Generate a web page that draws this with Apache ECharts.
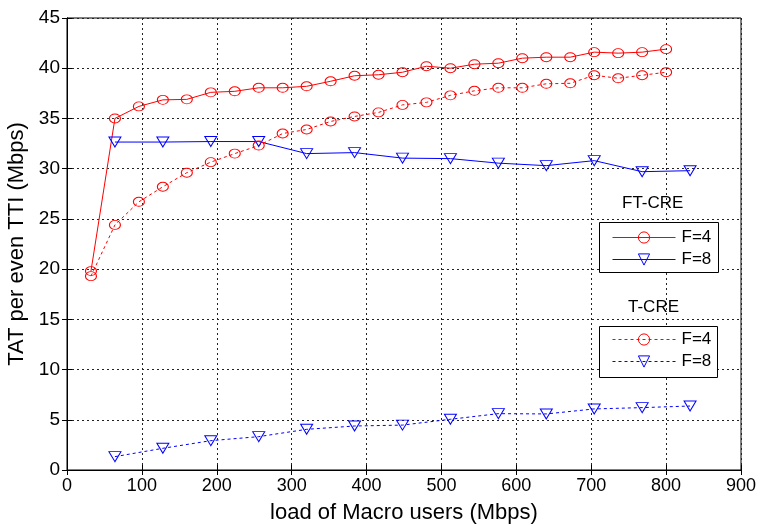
<!DOCTYPE html>
<html>
<head>
<meta charset="utf-8">
<script src="https://cdn.jsdelivr.net/npm/echarts@6/dist/echarts.min.js"></script>
<style>
  html, body { margin: 0; padding: 0; background: #fff; }
  #chart { width: 761px; height: 526px; }
</style>
</head>
<body>
<div id="chart"></div>
<script>
// Load of macro users (Mbps) sampled for each configuration
const loadF4 = [32, 64, 96, 128, 160, 192, 224, 256, 288, 320, 352, 384, 416,
                448, 480, 512, 544, 576, 608, 640, 672, 704, 736, 768, 800];
const loadF8 = [64, 128, 192, 256, 320, 384, 448, 512, 576, 640, 704, 768, 832];

// Throughput per even TTI (Mbps)
const ftcreF4 = [19.8, 35.0, 36.2, 36.85, 36.9, 37.6, 37.7, 38.05, 38.05, 38.2, 38.7, 39.25, 39.35,
                 39.6, 40.2, 40.0, 40.4, 40.5, 41.0, 41.1, 41.1, 41.6, 41.5, 41.6, 41.9];
const ftcreF8 = [32.65, 32.65, 32.7, 32.7, 31.5, 31.6, 31.05, 31.0, 30.55, 30.3, 30.8, 29.7, 29.8];
const tcreF4  = [19.3, 24.4, 26.7, 28.2, 29.6, 30.65, 31.5, 32.3, 33.5, 33.9, 34.7, 35.2, 35.6,
                 36.35, 36.6, 37.3, 37.75, 38.05, 38.05, 38.45, 38.5, 39.3, 39.0, 39.3, 39.6];
const tcreF8  = [1.33, 2.16, 2.92, 3.32, 4.05, 4.38, 4.47, 5.05, 5.61, 5.58, 6.08, 6.21, 6.37];

const xTicks = { min: 0, max: 900, interval: 100 };
const yTicks = { min: 0, max: 45, interval: 5 };

const RED = '#ff0000';
const BLUE = '#0000ff';
const FONT = '"Liberation Sans", Arial, Helvetica, sans-serif';
const CLEAR = 'rgba(255,255,255,0)';
const DASH = [3, 3];

function pairs(xs, ys) { return xs.map((x, i) => [x, ys[i]]); }

function lineSeries(name, xs, ys, color, dashed, symbol) {
  const tri = symbol === 'tri';
  return {
    name: name,
    type: 'line',
    data: pairs(xs, ys),
    xAxisIndex: 0,
    yAxisIndex: 0,
    symbol: tri ? 'triangle' : 'circle',
    symbolRotate: tri ? 180 : 0,
    symbolSize: tri ? [12, 10] : [11, 9],
    showAllSymbol: true,
    lineStyle: { color: color, width: 1, type: dashed ? DASH : 'solid' },
    itemStyle: { color: CLEAR, borderColor: color, borderWidth: 1 },
    emphasis: { disabled: true },
    animation: false,
    z: 3
  };
}

// Legend entry: thin line with a hollow marker
function legendItem(name, color, dashed) {
  return {
    name: name,
    itemStyle: { color: CLEAR, borderColor: color, borderWidth: 1 },
    lineStyle: { color: color, width: 1, type: dashed ? DASH : 'solid' }
  };
}

const gridLine = { show: true, lineStyle: { color: '#222', width: 1, type: [2, 3] } };
const axisLbl = { color: '#000', fontFamily: FONT, fontSize: 18 };

const chart = echarts.init(document.getElementById('chart'), null, { renderer: 'canvas' });

const legendCommon = {
  orient: 'vertical',
  itemWidth: 63,
  itemHeight: 14,
  itemGap: 5,
  padding: 0,
  z: 10,
  textStyle: { color: '#000', fontFamily: FONT, fontSize: 17, padding: [0, 0, 0, 1] },
  formatter: name => name.split(' ')[1],
  selectedMode: false
};

chart.setOption({
  backgroundColor: '#fff',
  animation: false,
  grid: { left: 67, right: 20, top: 18, bottom: 56, outerBoundsMode: 'none', containLabel: false,
          show: true, borderColor: '#000', borderWidth: 1, backgroundColor: 'transparent' },
  xAxis: [{
    type: 'value', min: xTicks.min, max: xTicks.max, interval: xTicks.interval,
    name: 'load of Macro users (Mbps)', nameLocation: 'middle', nameGap: 32,
    nameTextStyle: { color: '#000', fontFamily: FONT, fontSize: 22 },
    axisLine: { show: true, lineStyle: { color: '#000', width: 1 } },
    axisTick: { show: true, inside: true, length: 5, lineStyle: { color: '#000' } },
    axisLabel: Object.assign({ margin: 7 }, axisLbl),
    splitLine: gridLine
  }, {
    type: 'value', position: 'top', min: xTicks.min, max: xTicks.max, interval: xTicks.interval,
    axisLine: { show: true, lineStyle: { color: '#000', width: 1 } },
    axisTick: { show: true, inside: true, length: 5, lineStyle: { color: '#000' } },
    axisLabel: { show: false }, splitLine: { show: false }
  }],
  yAxis: [{
    type: 'value', min: yTicks.min, max: yTicks.max, interval: yTicks.interval,
    name: 'TAT per even TTI (Mbps)', nameLocation: 'middle', nameGap: 36,
    nameTextStyle: { color: '#000', fontFamily: FONT, fontSize: 22 },
    axisLine: { show: true, lineStyle: { color: '#000', width: 1 } },
    axisTick: { show: true, inside: true, length: 5, lineStyle: { color: '#000' } },
    axisLabel: Object.assign({ margin: 7 }, axisLbl, { fontSize: 19 }),
    splitLine: gridLine
  }, {
    type: 'value', position: 'right', min: yTicks.min, max: yTicks.max, interval: yTicks.interval,
    axisLine: { show: true, lineStyle: { color: '#000', width: 1 } },
    axisTick: { show: true, inside: true, length: 5, lineStyle: { color: '#000' } },
    axisLabel: { show: false }, splitLine: { show: false }
  }],
  legend: [
    Object.assign({ left: 612, top: 229, data: [
      legendItem('FT-CRE F=4', RED, false),
      legendItem('FT-CRE F=8', BLUE, false)
    ] }, legendCommon),
    Object.assign({ left: 612, top: 331, data: [
      legendItem('T-CRE F=4', RED, true),
      legendItem('T-CRE F=8', BLUE, true)
    ] }, legendCommon)
  ],
  graphic: [
    { type: 'rect', shape: { x: 599.5, y: 222.5, width: 119, height: 50 },
      style: { fill: '#fff', stroke: '#000', lineWidth: 1 }, z: 2 },
    { type: 'rect', shape: { x: 599.5, y: 326.5, width: 118, height: 51 },
      style: { fill: '#fff', stroke: '#000', lineWidth: 1 }, z: 2 },
    { type: 'text', left: 622, top: 195,
      style: { text: 'FT-CRE', fill: '#000', font: '17px ' + FONT }, z: 6 },
    { type: 'text', left: 628, top: 299,
      style: { text: 'T-CRE', fill: '#000', font: '17px ' + FONT }, z: 6 }
  ],
  series: [
    lineSeries('FT-CRE F=4', loadF4, ftcreF4, RED, false, 'circle'),
    lineSeries('FT-CRE F=8', loadF8, ftcreF8, BLUE, false, 'tri'),
    lineSeries('T-CRE F=4', loadF4, tcreF4, RED, true, 'circle'),
    lineSeries('T-CRE F=8', loadF8, tcreF8, BLUE, true, 'tri')
  ]
});
</script>
</body>
</html>
